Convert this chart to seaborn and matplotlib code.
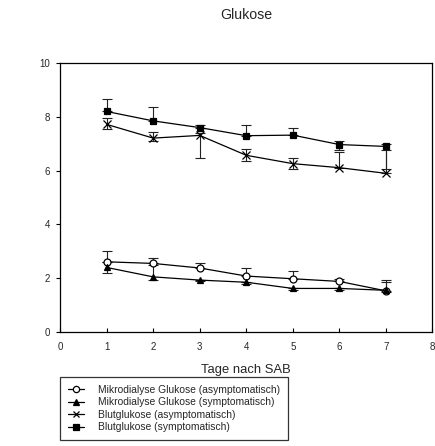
import numpy as np
import pandas as pd
import seaborn as sns
import matplotlib.pyplot as plt

# Tage nach SAB
tage = [1, 2, 3, 4, 5, 6, 7]

# Mikrodialyse Glukose (asymptomatisch) - offene Kreise
mikro_asym = [2.61, 2.55, 2.38, 2.08, 1.98, 1.88, 1.53]
mikro_asym_lo = [0, 0, 0, 0, 0, 0, 0]
mikro_asym_hi = [0.42, 0.22, 0.2, 0.3, 0.28, 0.1, 0.4]

# Mikrodialyse Glukose (symptomatisch) - Dreiecke
mikro_sym = [2.4, 2.05, 1.93, 1.85, 1.62, 1.62, 1.55]
mikro_sym_lo = [0.2, 0.1, 0.05, 0.05, 0.05, 0.05, 0.05]
mikro_sym_hi = [0.2, 0.45, 0, 0, 0, 0, 0.3]

# Blutglukose (asymptomatisch) - Kreuze
blut_asym = [7.72, 7.21, 7.31, 6.57, 6.26, 6.11, 5.9]
blut_asym_lo = [0.18, 0.12, 0.84, 0.2, 0.2, 0, 0]
blut_asym_hi = [0.22, 0.22, 0.1, 0.22, 0.22, 0.58, 0.85]

# Blutglukose (symptomatisch) - Quadrate
blut_sym = [8.2, 7.85, 7.6, 7.3, 7.32, 6.97, 6.9]
blut_sym_lo = [0, 0, 0, 0, 0, 0.2, 0.85]
blut_sym_hi = [0.48, 0.52, 0.08, 0.4, 0.27, 0.12, 0.1]

labels = ['Mikrodialyse Glukose (asymptomatisch)',
          'Mikrodialyse Glukose (symptomatisch)',
          'Blutglukose (asymptomatisch)',
          'Blutglukose (symptomatisch)']

sns.set_style('white')
plt.rcParams['font.family'] = ['Liberation Sans', 'DejaVu Sans']

fig = plt.figure(figsize=(4.355, 4.46), dpi=100)
ax = fig.add_axes([0.138, 0.2556, 0.855, 0.603])

serien = [
    (mikro_asym, mikro_asym_lo, mikro_asym_hi, 'o', 'white'),
    (mikro_sym, mikro_sym_lo, mikro_sym_hi, '^', 'black'),
    (blut_asym, blut_asym_lo, blut_asym_hi, 'x', 'black'),
    (blut_sym, blut_sym_lo, blut_sym_hi, 's', 'black'),
]

for (werte, lo, hi, m, fc), lab in zip(serien, labels):
    # Fehlerbalken
    ax.errorbar(tage, werte, yerr=[lo, hi], fmt='none', ecolor='#222222',
                elinewidth=0.8, capsize=3.5, capthick=0.8, zorder=2)
    df = pd.DataFrame({'tag': tage, 'wert': werte})
    sns.lineplot(data=df, x='tag', y='wert', ax=ax, color='black', lw=0.9,
                 marker=m, markersize=5 if m != 'x' else 5.5,
                 markerfacecolor=fc, markeredgecolor='black',
                 markeredgewidth=0.9, label=lab, zorder=3)

ax.set_xlim(0, 8)
ax.set_ylim(0, 10)
ax.set_xticks(range(0, 9))
ax.set_yticks(range(0, 11, 2))
ax.tick_params(axis='x', direction='in', length=3, width=0.8, pad=7,
               labelsize=7, color='black', bottom=True)
ax.tick_params(axis='y', direction='out', length=3, width=0.8, pad=4.3,
               labelsize=7, color='black', left=True)
for s in ax.spines.values():
    s.set_color('black')
    s.set_linewidth(0.9)

ax.set_xlabel('Tage nach SAB', fontsize=9.4, labelpad=9)
ax.set_ylabel('')

fig.text(0.565, 0.966, 'Glukose', ha='center', va='center', fontsize=10.2)

leg = ax.legend(loc='upper left', bbox_to_anchor=(0.138, 0.155),
                bbox_transform=fig.transFigure, borderaxespad=0,
                frameon=True, fancybox=False, edgecolor='black',
                fontsize=7.4, handlelength=1.55, handletextpad=1.4,
                labelspacing=0.25, borderpad=0.75, markerscale=0.9)
leg.get_frame().set_linewidth(0.9)

fig.savefig('out.png', dpi=100)
